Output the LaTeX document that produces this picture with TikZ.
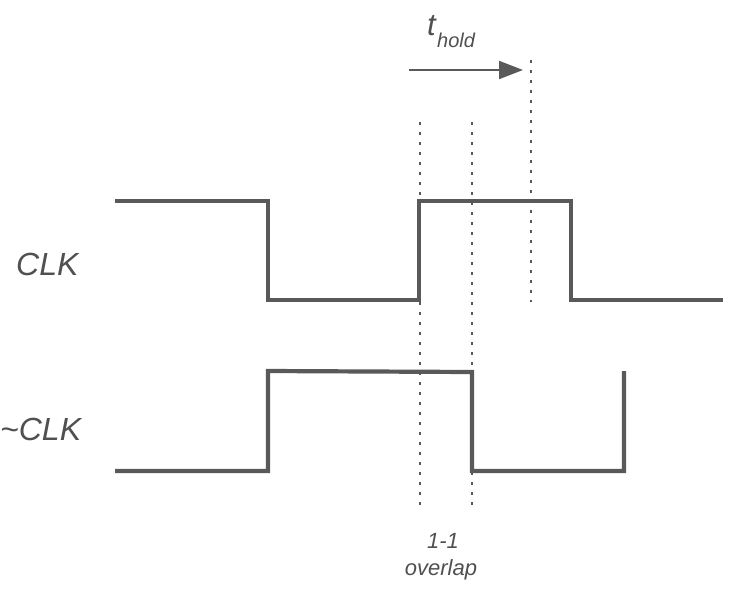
\documentclass[tikz,border=0pt]{standalone}
\usepackage{fontspec}
\setmainfont{Liberation Sans}
\usetikzlibrary{arrows.meta}
\definecolor{wave}{HTML}{595959}
\definecolor{txt}{HTML}{505050}
\tikzset{
  signal/.style={draw=wave, line width=4.2pt, line join=miter},
  guide/.style={draw=wave, line width=2.5pt, dash pattern=on 2.5pt off 7.5pt},
  lbl/.style={text=txt, inner sep=0pt, font=\itshape},
}
\begin{document}
\begin{tikzpicture}[x=1pt,y=-1pt]
\useasboundingbox (0,0) rectangle (735,597);
% dotted guides
\coordinate (g1t) at (420,122); \coordinate (g1b) at (420,505);
\coordinate (g2t) at (472,122); \coordinate (g2b) at (472,505);
\coordinate (g3t) at (531,60);  \coordinate (g3b) at (531,302);
\draw[guide] (g1t) -- (g1b);
\draw[guide] (g2t) -- (g2b);
\draw[guide] (g3t) -- (g3b);
% CLK waveform
\draw[signal] (115,201) -- (268,201) -- (268,300) -- (419,300) -- (419,201) -- (571,201) -- (571,300) -- (723,300);
% ~CLK waveform
\draw[signal] (115,471) -- (268,471) -- (268,371) -- (472,372) -- (472,471) -- (624,471) -- (624,371);
% labels
\node[lbl, font=\itshape\fontsize{32}{36}\selectfont, anchor=base west] (clk) at (16,275) {CLK};
\node[lbl, font=\itshape\fontsize{32}{36}\selectfont, anchor=base west] (nclk) at (0,440) {\char`\~CLK};
% t_hold
\node[lbl, font=\itshape\fontsize{31}{36}\selectfont, anchor=base west] (t) at (427,35) {t};
\node[lbl, font=\itshape\fontsize{20}{24}\selectfont, anchor=base west] (hold) at (437,47) {hold};
\coordinate (as) at (409,70);
\coordinate (ae) at (523,70);
\draw[draw=wave, line width=2pt, -{Triangle[length=24pt,width=18pt]}] (as) -- (ae);
% overlap label
\node[lbl, font=\itshape\fontsize{22}{26}\selectfont, anchor=base] (ov1) at (443,548) {1-1};
\node[lbl, font=\itshape\fontsize{22}{26}\selectfont, anchor=base] (ov2) at (441,575) {overlap};
\end{tikzpicture}
\end{document}
